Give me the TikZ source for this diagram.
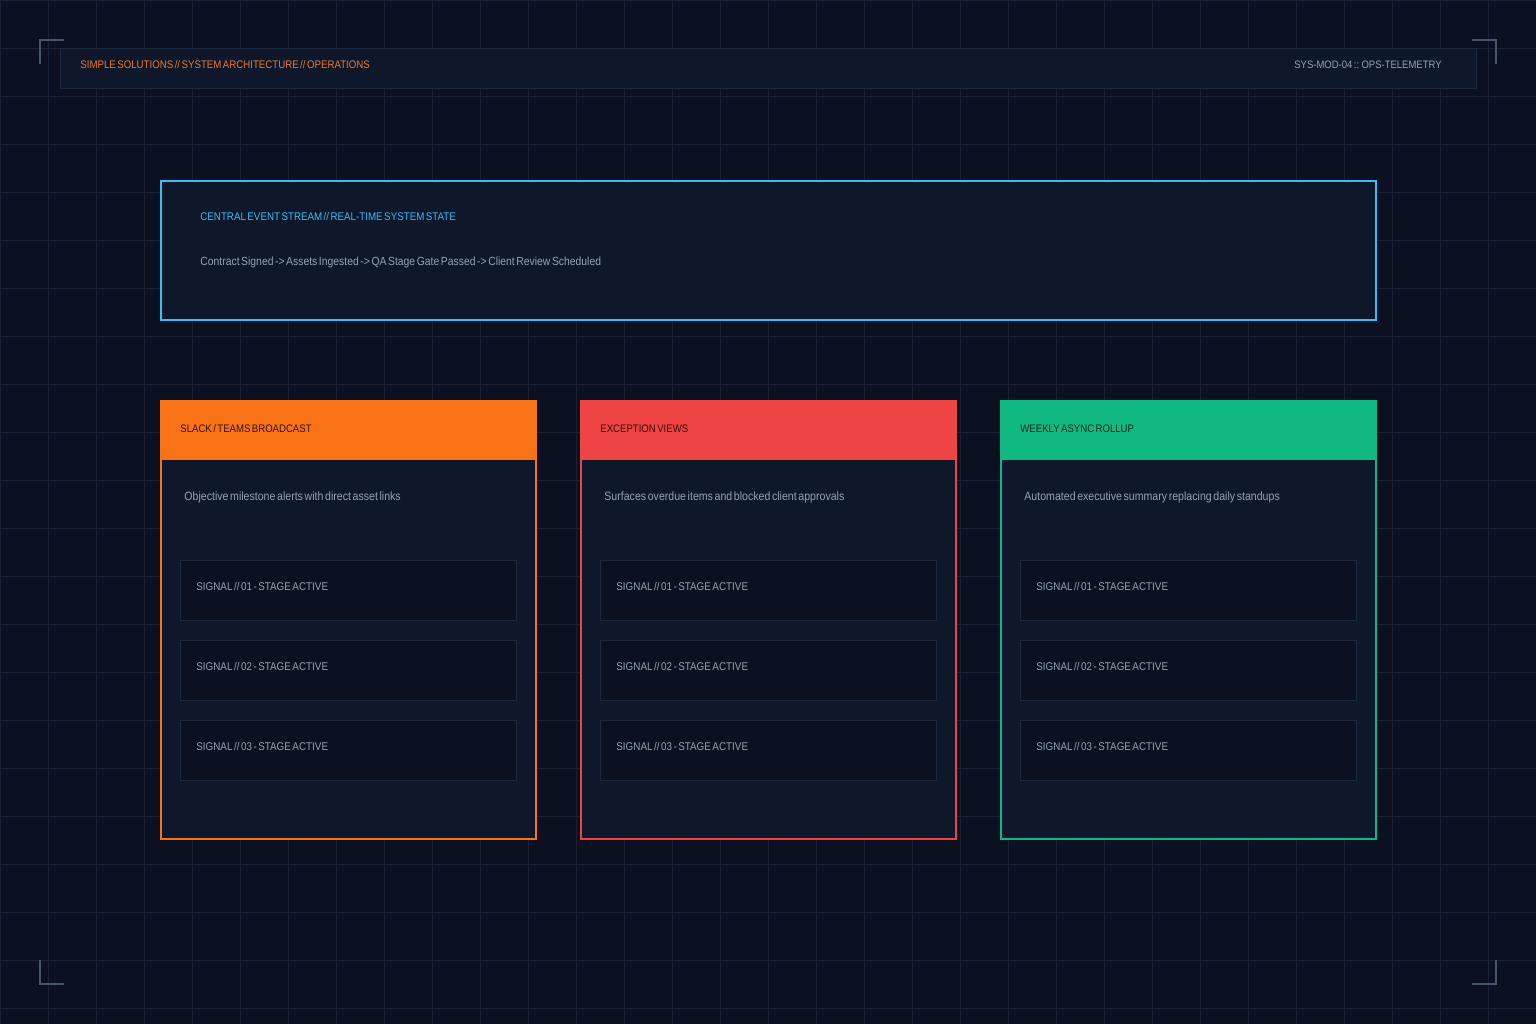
\documentclass[tikz,border=0pt]{standalone}
\usepackage{fontspec}
\setmainfont{Liberation Sans}[FakeStretch=0.88,WordSpace=0.55]

\definecolor{bgcolor}{RGB}{11,17,32}
\definecolor{gridcolor}{RGB}{25,34,54}
\definecolor{panelcolor}{RGB}{15,23,42}
\definecolor{slotcolor}{RGB}{11,17,32}
\definecolor{edgecolor}{RGB}{30,41,59}
\definecolor{bracketcolor}{RGB}{71,85,105}
\definecolor{mutedcolor}{RGB}{148,163,184}
\definecolor{skycolor}{RGB}{56,189,248}
\definecolor{brandcolor}{RGB}{234,122,44}
\definecolor{orangecolor}{RGB}{249,115,22}
\definecolor{redcolor}{RGB}{239,68,68}
\definecolor{greencolor}{RGB}{16,185,129}
\definecolor{orangeink}{RGB}{50,18,4}
\definecolor{redink}{RGB}{60,10,12}
\definecolor{greenink}{RGB}{6,40,28}

\begin{document}
\begin{tikzpicture}[x=0.5pt,y=-0.5pt,
    gridline/.style={draw=gridcolor,line width=0.5pt},
    bracket/.style={draw=bracketcolor,line width=1pt},
    label/.style={anchor=west,inner sep=0pt,font=\fontsize{5.6}{6.6}\selectfont},
    bodytext/.style={anchor=west,inner sep=0pt,font=\fontsize{5.9}{7}\selectfont},
    cardtitle/.style={anchor=west,inner sep=0pt,font=\fontsize{5.45}{6.5}\selectfont},
    slotbox/.style={fill=slotcolor,draw=edgecolor,line width=0.5pt}]

    % Background and grid
    \fill[bgcolor] (0,0) rectangle (1536,1024);
    \useasboundingbox (0,0) rectangle (1536,1024);
    \foreach \x in {0,48,...,1536} {
        \draw[gridline] (\x,0) -- (\x,1024);
    }
    \foreach \y in {0,48,...,1008} {
        \draw[gridline] (0,\y) -- (1536,\y);
    }

    % Corner brackets
    \draw[bracket] (40,64) -- (40,40) -- (64,40);
    \draw[bracket] (1472,40) -- (1496,40) -- (1496,64);
    \draw[bracket] (40,960) -- (40,984) -- (64,984);
    \draw[bracket] (1472,984) -- (1496,984) -- (1496,960);

    % Header bar
    \draw[fill=panelcolor,draw=edgecolor,line width=0.5pt] (60,48) rectangle (1476,88);
    \node[label,text=brandcolor,font=\fontsize{5.5}{6.5}\selectfont] (brand) at (80,65) {SIMPLE SOLUTIONS // SYSTEM ARCHITECTURE // OPERATIONS};
    \node[label,text=mutedcolor,anchor=east,font=\fontsize{5.4}{6.5}\selectfont] (module) at (1442,65) {SYS-MOD-04 :: OPS-TELEMETRY};

    % Central event stream
    \draw[fill=panelcolor,draw=skycolor,line width=1pt] (161,181) rectangle (1376,320);
    \node[label,text=skycolor,font=\fontsize{5.55}{6.5}\selectfont] (streamtitle) at (200,217) {CENTRAL EVENT STREAM // REAL-TIME SYSTEM STATE};
    \node[bodytext,text=mutedcolor] (streamflow) at (200,262) {Contract Signed -> Assets Ingested -> QA Stage Gate Passed -> Client Review Scheduled};

    % Output cards
    \foreach \left/\col/\ink/\name/\title/\desc in {
        160/orangecolor/orangeink/slack/{SLACK / TEAMS BROADCAST}/{Objective milestone alerts with direct asset links},
        580/redcolor/redink/exception/{EXCEPTION VIEWS}/{Surfaces overdue items and blocked client approvals},
        1000/greencolor/greenink/rollup/{WEEKLY ASYNC ROLLUP}/{Automated executive summary replacing daily standups}} {
        \pgfmathsetmacro{\right}{\left+376}
        \draw[fill=panelcolor,draw=\col,line width=1pt] (\left+1,401) rectangle (\right,839);
        \fill[\col] (\left,400) rectangle (\right+1,460);
        \node[cardtitle,text=\ink] (\name-title) at (\left+20,429) {\title};
        \node[bodytext,text=mutedcolor,font=\fontsize{6.02}{7}\selectfont] (\name-desc) at (\left+24,497) {\desc};
        % Signal slots
        \foreach \i/\top in {1/560,2/640,3/720} {
            \draw[slotbox] (\left+20,\top) rectangle (\left+356,\top+60);
            \node[label,text=mutedcolor] (\name-signal-\i) at (\left+36,\top+26) {SIGNAL // 0\i\ - STAGE ACTIVE};
        }
    }
\end{tikzpicture}
\end{document}
